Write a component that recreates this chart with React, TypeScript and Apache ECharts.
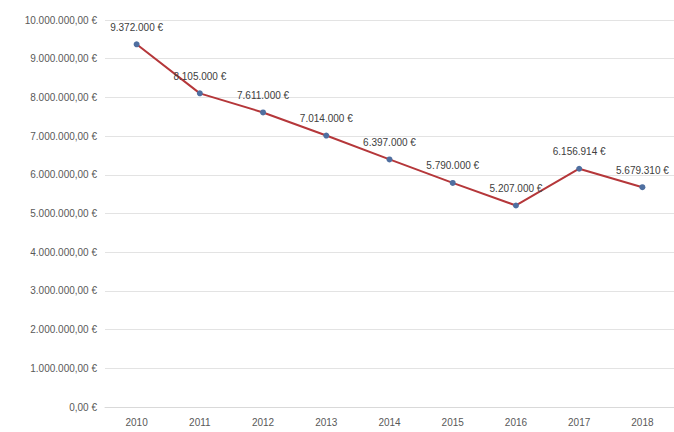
import React, { useEffect, useRef } from "react";
import * as echarts from "echarts";

const years = ["2010", "2011", "2012", "2013", "2014", "2015", "2016", "2017", "2018"];
const values = [9372000, 8105000, 7611000, 7014000, 6397000, 5790000, 5207000, 6156914, 5679310];

function fmtInt(n: number): string {
  const s = Math.round(n).toString();
  return s.replace(/\B(?=(\d{3})+(?!\d))/g, ".");
}

export default function App() {
  const ref = useRef<HTMLDivElement>(null);
  useEffect(() => {
    if (!ref.current) return;
    const chart = echarts.init(ref.current, undefined, { renderer: "svg" });
    chart.setOption({
      animation: false,
      backgroundColor: "#ffffff",
      grid: { left: 105, right: -6, top: 20, bottom: 25 },
      xAxis: {
        type: "category",
        data: years,
        boundaryGap: true,
        axisLine: { lineStyle: { color: "#d9d9d9" } },
        axisTick: { show: false },
        axisLabel: { color: "#595959", fontSize: 10, fontFamily: "Liberation Sans Narrow, Liberation Sans", margin: 10 },
      },
      yAxis: {
        type: "value",
        min: 0,
        max: 10000000,
        interval: 1000000,
        axisLine: { show: false },
        axisTick: { show: false },
        splitLine: { lineStyle: { color: "#e3e3e3" } },
        axisLabel: {
          color: "#595959",
          fontSize: 10,
          fontFamily: "Liberation Sans Narrow, Liberation Sans",
          margin: 8,
          formatter: (v: number) => fmtInt(v) + ",00 €",
        },
      },
      series: [
        {
          type: "line",
          data: values,
          symbol: "circle",
          symbolSize: 6,
          lineStyle: { color: "#b5373a", width: 2 },
          itemStyle: { color: "#4f6fa0" },
          label: {
            show: true,
            position: "top",
            distance: 9,
            color: "#404040",
            fontSize: 10,
            fontFamily: "Liberation Sans Narrow, Liberation Sans",
            formatter: (p: any) => fmtInt(p.value) + " €",
          },
        },
      ],
    });
    return () => chart.dispose();
  }, []);
  return <div ref={ref} style={{ position: "absolute", left: 0, top: 0, width: 674, height: 432 }} />;
}
